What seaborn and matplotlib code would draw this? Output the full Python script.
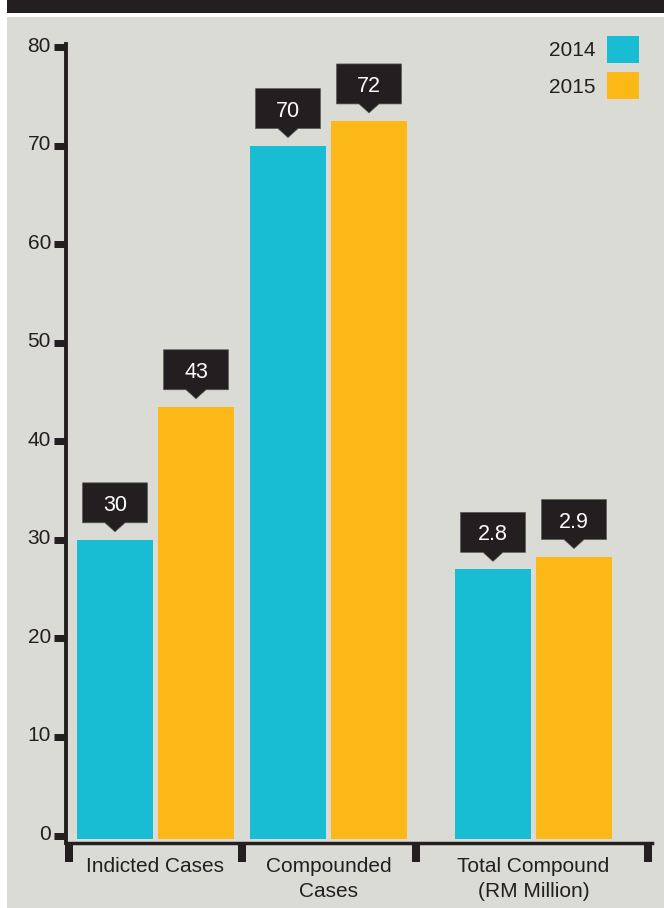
import numpy as np
import pandas as pd
import matplotlib
matplotlib.use("Agg")
import matplotlib.pyplot as plt
import matplotlib.patches as mpatches
import matplotlib.transforms as mtransforms
import seaborn as sns

# ---------------- data ----------------
categories = ["Indicted Cases", "Compounded\nCases", "Total Compound\n(RM Million)"]
years = ["2014", "2015"]
values_2014 = [30.0, 70.0, 27.0]      # bar heights as drawn on the 0-80 scale
values_2015 = [43.5, 72.5, 28.3]
labels_2014 = ["30", "70", "2.8"]     # printed callout values
labels_2015 = ["43", "72", "2.9"]
y_ticks = [0, 10, 20, 30, 40, 50, 60, 70, 80]

# ---------------- layout (pixel based) ----------------
W, H, DPI = 664, 908, 100
group_pos = [155.5, 328.5, 533.5]
bracket_pos = [68.5, 242, 416, 648]
AX_L, AX_R, AX_T, AX_B = 66, 652, 44, 842.5
ZERO_PX, PX_PER_UNIT = 835.5, 9.856
BAR_BASE = -0.38

CYAN = "#19bdd3"
ORANGE = "#fcb817"
BG = "#dbdbd6"
INK = "#231f20"
FS = 15

sns.set_theme(style="white")
plt.rcParams["font.family"] = ["Liberation Sans", "DejaVu Sans"]

fig = plt.figure(figsize=(W / DPI, H / DPI), dpi=DPI, facecolor="white")
fig.patches.append(mpatches.Rectangle((7 / W, -0.01), 1.01 - 7 / W, (H - 17) / H + 0.01,
                                      transform=fig.transFigure, facecolor=BG,
                                      edgecolor="none", zorder=-10))
fig.patches.append(mpatches.Rectangle((7 / W, (H - 13) / H), 1.01 - 7 / W, 13 / H + 0.01,
                                      transform=fig.transFigure, facecolor=INK,
                                      edgecolor="none", zorder=-10))

ax = fig.add_axes([AX_L / W, (H - AX_B) / H, (AX_R - AX_L) / W, (AX_B - AX_T) / H])
ax.set_facecolor("none")

df = pd.DataFrame({
    "pos": group_pos * 2,
    "year": [years[0]] * 3 + [years[1]] * 3,
    "value": values_2014 + values_2015,
})

sns.barplot(data=df, x="pos", y="value", hue="year", hue_order=years,
            palette=[CYAN, ORANGE], native_scale=True, width=162 / 173,
            gap=5 / 81, dodge=True, legend=False, saturation=1,
            linewidth=0, errorbar=None, ax=ax)

ax.set_xlim(AX_L, AX_R)
ax.set_ylim(-(AX_B - ZERO_PX) / PX_PER_UNIT, (ZERO_PX - AX_T) / PX_PER_UNIT)

# callouts
box_verts = np.array([(-32.5, 17), (-10, 17), (0, 8), (10, 17), (32.5, 17),
                      (32.5, 57), (-32.5, 57)]) / DPI
for cont, labs in zip(ax.containers, [labels_2014, labels_2015]):
    for bar, lab in zip(cont, labs):
        cx = bar.get_x() + bar.get_width() / 2
        top = bar.get_height()
        tr = fig.dpi_scale_trans + mtransforms.ScaledTranslation(cx, top, ax.transData)
        ax.add_patch(mpatches.Polygon(box_verts, closed=True, transform=tr,
                                      facecolor=INK, edgecolor="#5e5b5b",
                                      linewidth=0.5, clip_on=False, zorder=5))
        ax.annotate(lab, xy=(cx, top), xytext=(0, 29 * 0.72),
                    textcoords="offset points", ha="center", va="baseline",
                    color="white", fontsize=15.5, zorder=6)
        # extend bar down to the axis line
        bar.set_y(BAR_BASE)
        bar.set_height(top - BAR_BASE)

# spines
for s in ["top", "right"]:
    ax.spines[s].set_visible(False)
ax.spines["left"].set_linewidth(2.8)
ax.spines["left"].set_color(INK)
ax.spines["bottom"].set_linewidth(2.5)
ax.spines["bottom"].set_color(INK)

# y ticks
ax.set_yticks(y_ticks)
ax.set_yticklabels([str(t) for t in y_ticks])
ax.tick_params(axis="y", which="major", direction="out", length=12 * 0.72,
               width=7 * 0.72, color=INK, pad=2.2, labelsize=FS, labelcolor=INK,
               left=True)
off = mtransforms.ScaledTranslation(0, 3 / DPI, fig.dpi_scale_trans)
for lab in ax.get_yticklabels():
    lab.set_transform(lab.get_transform() + off)

# x ticks: labels at group centres, brackets as minor ticks
ax.set_xticks(group_pos)
ax.set_xticklabels(categories)
ax.set_xticks(bracket_pos, minor=True)
ax.tick_params(axis="x", which="major", length=0, pad=10.5, labelsize=FS,
               labelcolor=INK, bottom=True)
ax.tick_params(axis="x", which="minor", direction="out", length=19 * 0.72,
               width=8 * 0.72, color=INK, bottom=True)
for lab in ax.get_xticklabels():
    lab.set_linespacing(1.4)
ax.set_xlabel("")
ax.set_ylabel("")

# legend
handles = [mpatches.Patch(facecolor=c, edgecolor="none") for c in [CYAN, ORANGE]]
fs_px = FS * DPI / 72
ax.legend(handles, years, loc="upper right", bbox_to_anchor=(639 / W, 1 - 36 / H),
          bbox_transform=fig.transFigure, frameon=False, markerfirst=False,
          handlelength=32 / fs_px, handleheight=1.617, handletextpad=11 / fs_px,
          labelspacing=0.45, borderpad=0, borderaxespad=0, fontsize=FS,
          labelcolor=INK)

fig.savefig("out.png", dpi=DPI, facecolor="white")
